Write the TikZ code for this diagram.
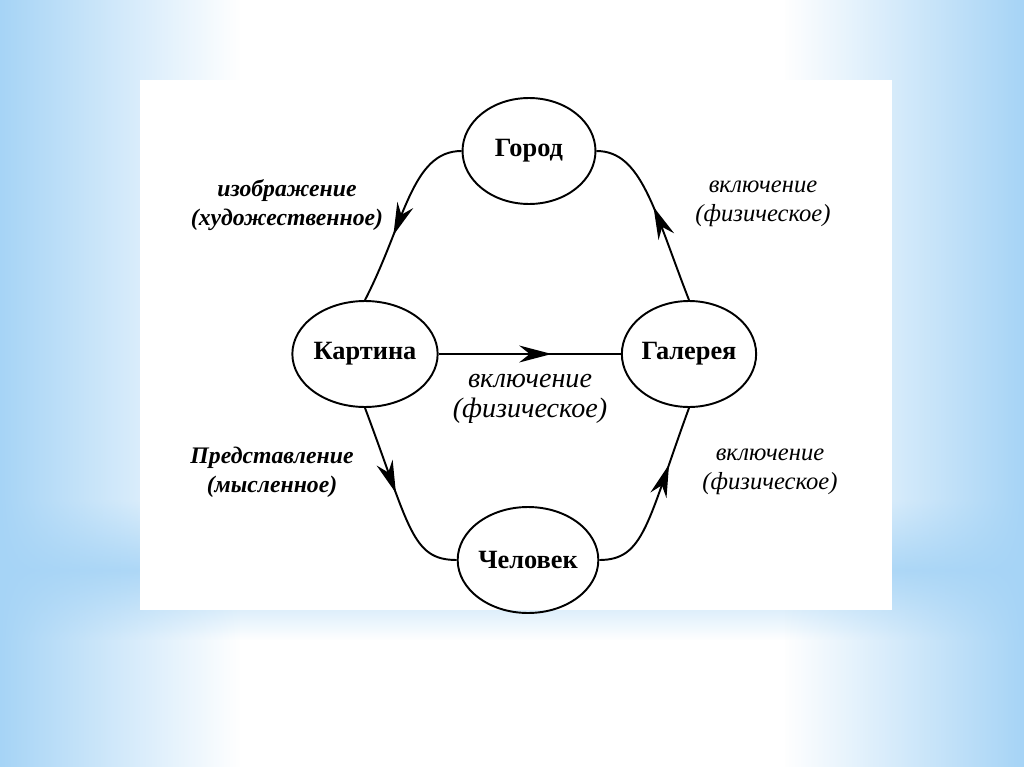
\documentclass[tikz,border=0pt]{standalone}
\usepackage{fontspec}
\setmainfont{Liberation Serif}
\usetikzlibrary{shapes.geometric, arrows.meta, decorations.markings, fadings}

\definecolor{sky}{RGB}{166,212,246}
\tikzfading[name=fadeR, left color=transparent!0, right color=transparent!100]
\tikzfading[name=fadeL, left color=transparent!100, right color=transparent!0]
\tikzfading[name=fadeband, top color=transparent!100, bottom color=transparent!100,
  middle color=transparent!15]

\begin{document}
\begin{tikzpicture}[x=0.02cm, y=-0.02cm,
        n/.style={ellipse, draw, line width=1.1pt, minimum width=2.66cm,
          minimum height=2.12cm, inner sep=0pt, font=\bfseries\fontsize{15}{18}\selectfont},
        conn/.style={line width=1.1pt},
        mid/.style={postaction={decorate}, decoration={markings,
          mark=at position #1 with {\arrow{Stealth[length=6.5mm, width=3.4mm]}}}},
        lbl/.style={align=center, font=\itshape\fontsize{14}{16.5}\selectfont},
        lblb/.style={lbl, font=\bfseries\itshape\fontsize{13.5}{16.5}\selectfont}]

      % background: slide and white sheet
      \fill[white] (0,0) rectangle (1024,767);
      \fill[sky, path fading=fadeband] (0,500) rectangle (1024,640);
      \fill[sky, path fading=fadeR] (0,0) rectangle (240,767);
      \fill[sky, path fading=fadeL] (784,0) rectangle (1024,767);
      \fill[white] (140,80) rectangle (892,610);
      \useasboundingbox (0,0) rectangle (1024,767);

      % the four places
      \node[n] (gorod) at (529,151) {Город};
      \node[n] (kartina) at (365,354) {Картина};
      \node[n] (galereya) at (689,354) {Галерея};
      \node[n] (chelovek) at (528,560) {Человек};

      % relations
      \draw[conn, mid=0.62] (gorod.west) .. controls +(-50,0) and +(40,-78) .. (kartina.north);
      \draw[conn, mid=0.54] (galereya.north) .. controls +(-35,-90) and +(45,0) .. (gorod.east);
      \draw[conn, mid=0.62] (kartina) -- (galereya);
      \draw[conn, mid=0.48] (kartina.south) .. controls +(45,120) and +(-45,0) .. (chelovek.west);
      \draw[conn, mid=0.68] (chelovek.east) .. controls +(45,0) and +(-42,115) .. (galereya.south);

      % labels
      \node[lblb] (l-izo) at (287,205) {изображение\\(художественное)};
      \node[lbl] (l-vkl1) at (763,204) {включение\\(физическое)};
      \node[lbl, font=\itshape\fontsize{16}{17}\selectfont] (l-vkl2) at (530,399) {включение\\(физическое)};
      \node[lblb] (l-pred) at (272,472) {Представление\\(мысленное)};
      \node[lbl] (l-vkl3) at (770,472) {включение\\(физическое)};
    \end{tikzpicture}
\end{document}
